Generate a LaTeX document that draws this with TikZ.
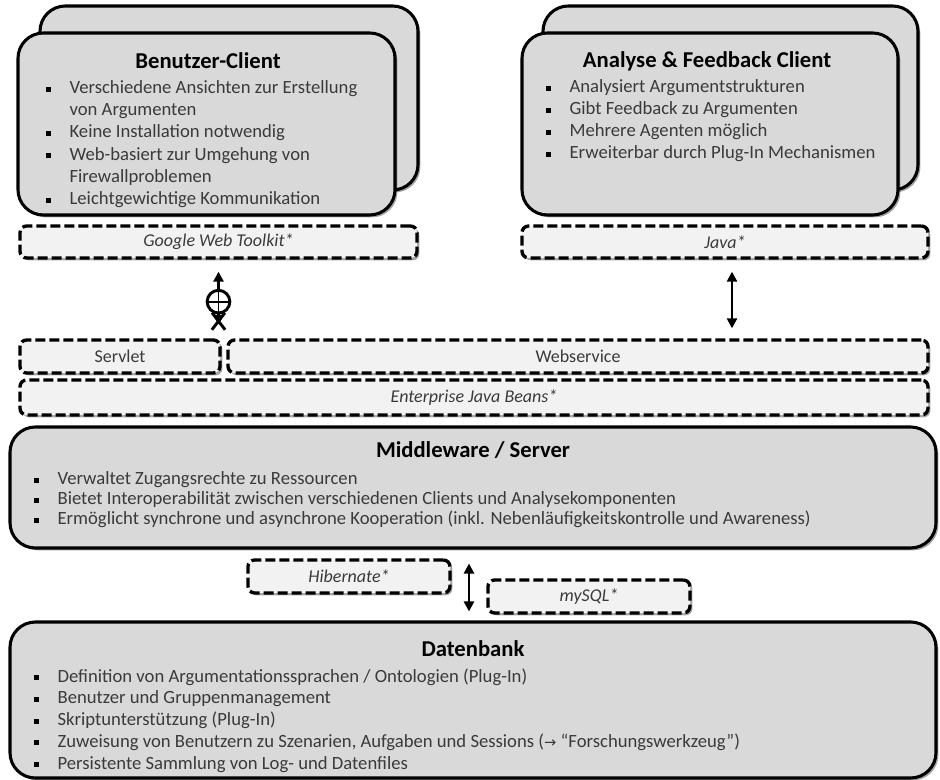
\documentclass[tikz,border=0pt]{standalone}
\usepackage{fontspec}
\setmainfont{Carlito}
\newfontfamily\symfont{DejaVu Sans}
\usetikzlibrary{shadows,fit,arrows.meta,calc}
\definecolor{boxgray}{HTML}{D9D9D9}
\definecolor{dashgray}{HTML}{F2F2F2}
\definecolor{txtgray}{HTML}{3A3A3A}
\newcommand\bul{\makebox[17.5pt][l]{\raisebox{0.2ex}{\color{black}\rule{3.9pt}{3.9pt}}}}
\newcommand\ind{\hspace*{17.5pt}}
\tikzset{
  shad/.style={drop shadow={shadow xshift=1.8pt, shadow yshift=-1.8pt, opacity=0.35, fill=black}},
  mainbox/.style={draw=black, line width=2.3pt, rounded corners=19pt, fill=boxgray, inner sep=0pt, shad},
  dashbox/.style={draw=black, line width=2.5pt, dash pattern=on 7.5pt off 3pt, rounded corners=5pt, fill=dashgray, inner sep=0pt, shad},
  titletxt/.style={font=\fontsize{17}{19}\selectfont\bfseries, text=black, inner sep=0pt, anchor=base},
  listtxt/.style={font=\fontsize{14}{16}\selectfont, text=txtgray, inner sep=0pt, anchor=base west},
  dtxt/.style={font=\fontsize{13.5}{15}\selectfont\itshape, text=txtgray, inner sep=0pt},
  ntxt/.style={font=\fontsize{13.5}{15}\selectfont, text=txtgray, inner sep=0pt},
  uparr/.style={line width=2.2pt, -{Triangle[length=7.5pt,width=7.5pt]}},
  arr/.style={line width=2.2pt, {Triangle[length=7.5pt,width=7.5pt]}-{Triangle[length=7.5pt,width=7.5pt]}},
}
\begin{document}
\begin{tikzpicture}[x=0.75pt,y=-0.75pt]
\useasboundingbox (0,0) rectangle (940,780);

% Benutzer-Client
\node[mainbox, fit={(40,6)(418,190)}] (bcb) {};
\node[mainbox, fit={(18,33)(395,215)}] (bc) {};
\node[titletxt] (bct) at (208,69) {Benutzer-Client};
\foreach \t [count=\i from 0] in {{\bul Verschiedene Ansichten zur Erstellung},{\ind von Argumenten},{\bul Keine Installation notwendig},{\bul Web-basiert zur Umgehung von},{\ind Firewallproblemen},{\bul Leichtgewichtige Kommunikation}}
  \node[listtxt] (bcl\i) at (46,{93.5+22.2*\i}) {\t};

% Analyse & Feedback Client
\node[mainbox, fit={(543,6)(918,190)}] (afb) {};
\node[mainbox, fit={(522,33)(898,215)}] (af) {};
\node[titletxt] (aft) at (707,68) {Analyse \& Feedback Client};
\foreach \t [count=\i from 0] in {{\bul Analysiert Argumentstrukturen},{\bul Gibt Feedback zu Argumenten},{\bul Mehrere Agenten möglich},{\bul Erweiterbar durch Plug-In Mechanismen}}
  \node[listtxt] (afl\i) at (546,{92.5+22*\i}) {\t};

% dashed technology boxes
\node[dashbox, fit={(20,226)(417,258)}] (gwt) {};
\node[dtxt] (gwtt) at (gwt.center) {Google Web Toolkit*};
\node[dashbox, fit={(522,226)(928,258)}] (java) {};
\node[dtxt] (javat) at (java.center) {Java*};
\node[dashbox, fit={(20,340)(220,373)}] (servlet) {};
\node[ntxt] (servlett) at (servlet.center) {Servlet};
\node[dashbox, fit={(228,340)(928,373)}] (ws) {};
\node[ntxt] (wst) at (ws.center) {Webservice};
\node[dashbox, fit={(20,380)(928,415)}] (ejb) {};
\node[dtxt] (ejbt) at (ejb.center) {Enterprise Java Beans*};

% Middleware
\node[mainbox, fit={(10,427)(936,548)}] (mw) {};
\node[titletxt] (mwt) at (473,458) {Middleware / Server};
\foreach \t [count=\i from 0] in {{\bul Verwaltet Zugangsrechte zu Ressourcen},{\bul Bietet Interoperabilität zwischen verschiedenen Clients und Analysekomponenten},{\bul Ermöglicht synchrone und asynchrone Kooperation (inkl. Nebenläufigkeitskontrolle und Awareness)}}
  \node[listtxt] (mwl\i) at (34,{485+20*\i}) {\t};

% Hibernate / mySQL
\node[dashbox, fit={(248,560)(450,593)}] (hib) {};
\node[dtxt] (hibt) at (hib.center) {Hibernate*};
\node[dashbox, fit={(488,580)(690,613)}] (mysql) {};
\node[dtxt] (mysqlt) at (mysql.center) {mySQL*};

% Datenbank
\node[mainbox, fit={(10,622)(936,778)}] (db) {};
\node[titletxt] (dbt) at (473,657) {Datenbank};
\foreach \t [count=\i from 0] in {{\bul Definition von Argumentationssprachen / Ontologien (Plug-In)},{\bul Benutzer und Gruppenmanagement},{\bul Skriptunterstützung (Plug-In)},{\bul Zuweisung von Benutzern zu Szenarien, Aufgaben und Sessions ({\symfont\fontsize{11}{12}\selectfont →} “Forschungswerkzeug”)},{\bul Persistente Sammlung von Log- und Datenfiles}}
  \node[listtxt] (dbl\i) at (34,{682+21.75*\i}) {\t};

% connectors
% left: special symbol arrow
\node[circle, draw=black, line width=2.2pt, minimum size=17pt, inner sep=0pt] (sym) at ($(gwt.south)+(0,42)$) {};
\draw[line width=1.4pt] (sym.north) -- (sym.south) (sym.west) -- (sym.east);
\draw[uparr] (sym.north) -- ($(gwt.south)+(0,12)$);
\draw[line width=2.2pt] (sym.-120) -- ++(13,17) (sym.-60) -- ++(-13,17);
\draw[line width=2pt, -{Triangle[length=7pt,width=7.5pt]}] (sym.south) -- ($(gwt.south |- servlet.north)+(0,-14)$);

% right arrow
\coordinate (jx) at ([xshift=5.25pt]java.south);
\draw[arr] ($(jx)+(0,12)$) -- ($(jx |- ws.north)+(0,-10)$);

% middleware - database
\coordinate (mx) at ([xshift=-3pt]mw.south);
\draw[arr] ($(mx)+(0,14)$) -- ($(mx |- db.north)+(0,-9)$);
\end{tikzpicture}
\end{document}
